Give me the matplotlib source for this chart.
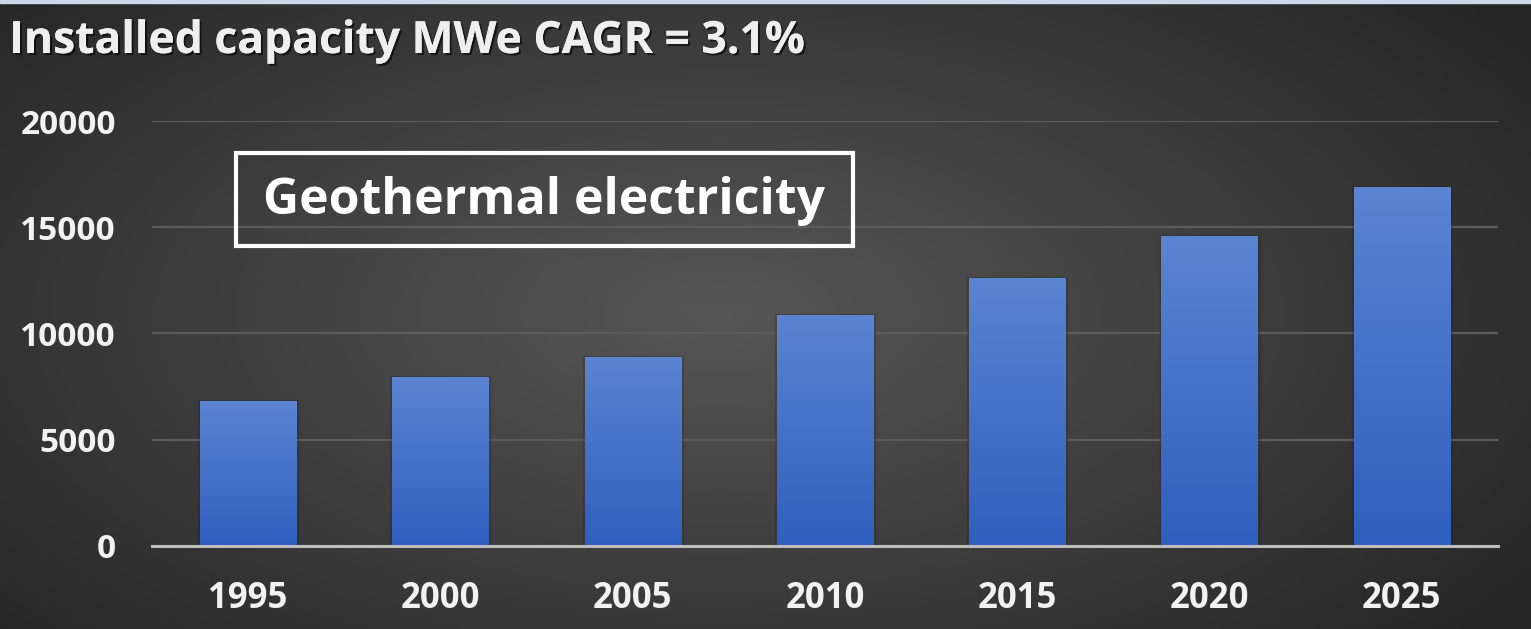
import numpy as np
import matplotlib
matplotlib.use("Agg")
from matplotlib import pyplot as plt
from matplotlib.patches import Rectangle
import matplotlib.patheffects as pe

years = ["1995", "2000", "2005", "2010", "2015", "2020", "2025"]
capacity = [6830, 7950, 8900, 10870, 12610, 14590, 16900]
yticks = [0, 5000, 10000, 15000, 20000]

title = "Installed capacity MWe CAGR = 3.1%"
boxtext = "Geothermal electricity"

plt.rcParams['font.family'] = ['Open Sans', 'DejaVu Sans']

fig = plt.figure(figsize=(15.31, 6.29), dpi=100)

# radial grey background
bg = fig.add_axes([0, 0, 1, 1], zorder=-10)
gx, gy = np.meshgrid(np.linspace(0, 1, 400), np.linspace(0, 1, 200))
r = np.sqrt(((gx - 0.47) / 0.75) ** 2 + ((gy - 0.5) / 0.9) ** 2)
shade = np.clip(0.34 - 0.22 * r, 0.15, 0.36)
bg.imshow(np.dstack([shade] * 3), extent=[0, 1, 0, 1], aspect='auto', origin='lower')
bg.add_patch(Rectangle((0, 0.995), 1, 0.005, color='#c9d9ec', transform=bg.transAxes))
bg.set_axis_off()

ax = fig.add_axes([0.0993, 0.1320, 0.8791, 0.6756])
ax.patch.set_alpha(0)

x = np.arange(len(years))
bars = ax.bar(x, capacity, width=0.5, color='#4472c4', zorder=3)

grad = np.linspace(0, 1, 256).reshape(-1, 1)
cmap = matplotlib.colors.LinearSegmentedColormap.from_list('b', ['#2f5fbe', '#5b84d1'])
for b in bars:
    x0, y0 = b.get_x(), b.get_y()
    w, h = b.get_width(), b.get_height()
    ax.add_patch(Rectangle((x0 - 0.01, 0), w + 0.02, h + 50, color='#1e1e1e', alpha=0.18, zorder=2))
    im = ax.imshow(grad, extent=[x0, x0 + w, y0, y0 + h], origin='lower', cmap=cmap,
                   aspect='auto', zorder=4)
    im.set_clip_path(b)

ax.set_xlim(-0.5, len(years) - 0.5)
ax.set_ylim(0, 20000)
ax.set_yticks(yticks)
ax.set_yticklabels([str(v) for v in yticks])
ax.set_xticks(x)
ax.set_xticklabels(years)
ax.grid(axis='y', color='#5c5c5c', linewidth=1.6, zorder=0)
ax.set_axisbelow(True)
for s in ['top', 'right', 'left']:
    ax.spines[s].set_visible(False)
ax.spines['bottom'].set_color('#bdbdbd')
ax.spines['bottom'].set_linewidth(2.2)
ax.spines['bottom'].set_zorder(5)
ax.tick_params(axis='y', length=0, pad=26, labelsize=24, labelcolor='#f2f2f2')
ax.tick_params(axis='x', length=0, pad=25, labelsize=25, labelcolor='#f2f2f2')
for lab in ax.get_yticklabels() + ax.get_xticklabels():
    lab.set_fontweight('bold')

shadow = [pe.withSimplePatchShadow(offset=(1.5, -1.5), shadow_rgbFace='black', alpha=0.6), pe.Normal()]
fig.text(0.006, 0.934, title, fontsize=32, fontweight='bold', color='#efefef',
         ha='left', va='center', path_effects=shadow)

fig.patches.append(Rectangle((236 / 1531, 1 - 246 / 629), (853 - 236) / 1531, (246 - 153) / 629,
                             transform=fig.transFigure, fill=False, edgecolor='white', linewidth=3,
                             zorder=6))
fig.text(544 / 1531, 1 - 201 / 629, boxtext, fontsize=36, fontweight='bold', color='white',
         ha='center', va='center', zorder=7)

fig.savefig('out.png', dpi=100)
